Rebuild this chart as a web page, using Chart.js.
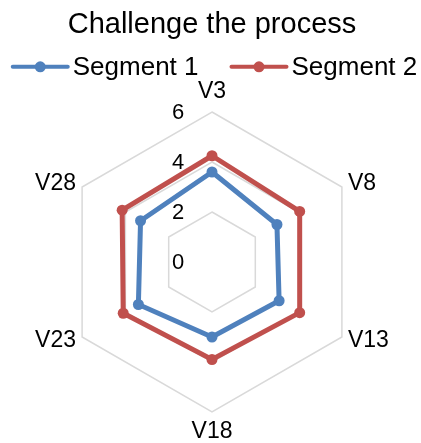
<!DOCTYPE html>
<html>
<head>
<meta charset="utf-8">
<script src="https://cdn.jsdelivr.net/npm/chart.js@4/dist/chart.umd.min.js"></script>
<style>
  html, body { margin: 0; padding: 0; background: #ffffff; }
  #chart { display: block; }
</style>
</head>
<body>
<canvas id="chart" width="421" height="443"></canvas>
<script>
const FONT = "'Liberation Sans', Arial, Helvetica, sans-serif";

const titleText = 'Challenge the process';
const categories = ['V3', 'V8', 'V13', 'V18', 'V23', 'V28'];
const seriesNames = ['Segment 1', 'Segment 2'];
const segment1 = [3.6, 3.0, 3.1, 3.0, 3.4, 3.3];
const segment2 = [4.25, 4.05, 4.05, 3.9, 4.1, 4.15];
const tickValues = [0, 2, 4, 6];
const seriesColors = ['#4F81BD', '#C0504D'];

Chart.defaults.font.family = FONT;
Chart.defaults.color = '#000000';

// Value labels sit to the left of the centre; category labels hug the outer ring.
const axisText = {
  id: 'axisText',
  beforeDatasetsDraw(chart) {
    const s = chart.scales.r;
    const ctx = chart.ctx;
    ctx.save();
    ctx.fillStyle = '#000000';
    ctx.textBaseline = 'middle';

    ctx.font = '22px ' + FONT;
    ctx.textAlign = 'center';
    s.ticks.forEach(t => {
      const d = s.getDistanceFromCenterForValue(t.value);
      ctx.fillText(String(t.value), s.xCenter - 34, s.yCenter - d + 1);
    });

    ctx.font = '23px ' + FONT;
    chart.data.labels.forEach((label, i) => {
      const p = s.getPointPosition(i, s.drawingArea + 7);
      const dx = p.x - s.xCenter;
      const dy = p.y - s.yCenter;
      let y = p.y;
      if (Math.abs(dx) < 1) {
        ctx.textAlign = 'center';
        y += Math.sign(dy) * 13;
      } else {
        ctx.textAlign = dx > 0 ? 'left' : 'right';
      }
      ctx.fillText(label, p.x, y);
    });
    ctx.restore();
  }
};

// Legend row: a line with a marker in the middle, followed by the series name.
const lineLegend = {
  id: 'lineLegend',
  afterDraw(chart) {
    const ctx = chart.ctx;
    ctx.save();
    ctx.font = '26px ' + FONT;
    ctx.textBaseline = 'middle';
    ctx.textAlign = 'left';
    const LINE = 57, TEXT_GAP = 4, ITEM_GAP = 32;
    const items = chart.data.datasets.map(ds => ({
      text: ds.label,
      color: ds.borderColor,
      w: ctx.measureText(ds.label).width
    }));
    const total = items.reduce((a, it) => a + LINE + TEXT_GAP + it.w, 0) + ITEM_GAP * (items.length - 1);
    const y = chart.chartArea.top - 23;
    let x = (chart.width - total) / 2 + 4;
    items.forEach(it => {
      ctx.strokeStyle = it.color;
      ctx.lineWidth = 4;
      ctx.lineCap = 'round';
      ctx.beginPath();
      ctx.moveTo(x + 1, y);
      ctx.lineTo(x + LINE - 1, y);
      ctx.stroke();
      ctx.fillStyle = it.color;
      ctx.beginPath();
      ctx.arc(x + LINE / 2, y, 5.5, 0, Math.PI * 2);
      ctx.fill();
      ctx.fillStyle = '#000000';
      ctx.fillText(it.text, x + LINE + TEXT_GAP, y + 1);
      x += LINE + TEXT_GAP + it.w + ITEM_GAP;
    });
    ctx.restore();
  }
};

const seriesValues = [segment1, segment2];

new Chart(document.getElementById('chart'), {
  type: 'radar',
  data: {
    labels: categories,
    datasets: seriesNames.map((name, k) => ({
      label: name,
      data: seriesValues[k],
      borderColor: seriesColors[k],
      backgroundColor: seriesColors[k],
      pointBackgroundColor: seriesColors[k],
      pointBorderColor: seriesColors[k],
      borderWidth: 5,
      pointRadius: 5.5,
      pointBorderWidth: 0,
      fill: false,
      tension: 0
    }))
  },
  options: {
    responsive: false,
    animation: false,
    devicePixelRatio: 1,
    layout: { padding: { left: 62, right: 59, top: 0, bottom: 8 } },
    plugins: {
      title: {
        display: true,
        text: titleText,
        color: '#000000',
        font: { family: FONT, size: 29, weight: 'normal' },
        padding: { top: 8, bottom: 47 }
      },
      legend: { display: false },
      tooltip: { enabled: false }
    },
    scales: {
      r: {
        min: 0,
        max: 6,
        afterBuildTicks: s => { s.ticks = tickValues.map(v => ({ value: v })); },
        ticks: { display: false, stepSize: 2 },
        grid: { color: '#D9D9D9', lineWidth: 1.5 },
        angleLines: { display: false },
        pointLabels: { display: false }
      }
    }
  },
  plugins: [axisText, lineLegend]
});
</script>
</body>
</html>
